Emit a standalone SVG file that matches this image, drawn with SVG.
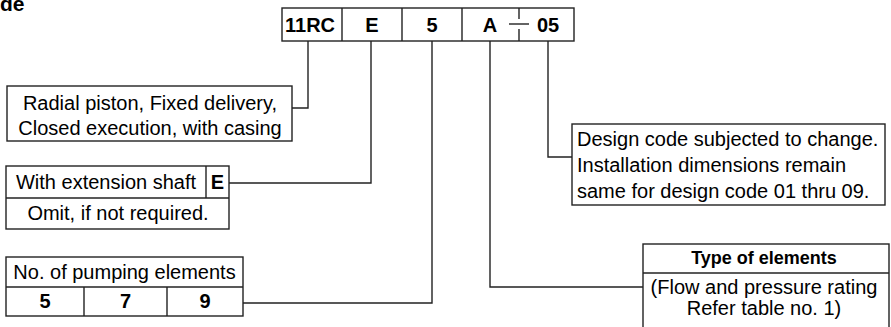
<svg xmlns="http://www.w3.org/2000/svg" width="891" height="327" viewBox="0 0 891 327">
<style>
.box{fill:#fff;stroke:#222;stroke-width:1.4}
.ln{fill:none;stroke:#222;stroke-width:1.4}
text{font-family:"Liberation Sans",Arial,sans-serif;font-size:20px;fill:#000}
.b{font-weight:bold}
.c{text-anchor:middle}
</style>
<rect width="891" height="327" fill="#fff"/>
<text class="b" x="0" y="11" style="font-size:21px">de</text>

<g id="code">
<rect class="box" x="282" y="8" width="292" height="33"/>
<line class="ln" x1="342" y1="8" x2="342" y2="41"/>
<line class="ln" x1="402" y1="8" x2="402" y2="41"/>
<line class="ln" x1="462" y1="8" x2="462" y2="41"/>
<line class="ln" x1="519" y1="8" x2="519" y2="19"/>
<line class="ln" x1="509" y1="24" x2="529" y2="24"/>
<line class="ln" x1="519" y1="29" x2="519" y2="41"/>
<text class="b c" x="310" y="32">11RC</text>
<text class="b c" x="372" y="32">E</text>
<text class="b c" x="432" y="32">5</text>
<text class="b c" x="490" y="32">A</text>
<text class="b c" x="548" y="32">05</text>
</g>

<g id="connectors">
<path class="ln" d="M308,41 V108 H292"/>
<path class="ln" d="M371,41 V183 H229"/>
<path class="ln" d="M432,41 V303 H243"/>
<path class="ln" d="M490,41 V287 H643"/>
<path class="ln" d="M548,41 V157 H572"/>
</g>

<g id="radial">
<rect class="box" x="7" y="86" width="285" height="55"/>
<text class="c" x="150" y="110">Radial piston, Fixed delivery,</text>
<text class="c" x="150" y="135">Closed execution, with casing</text>
</g>

<g id="shaft">
<rect class="box" x="6" y="166" width="223" height="63"/>
<line class="ln" x1="6" y1="198" x2="229" y2="198"/>
<line class="ln" x1="206" y1="166" x2="206" y2="198"/>
<text class="c" x="106" y="189">With extension shaft</text>
<text class="b c" x="217.5" y="189">E</text>
<text class="c" x="118" y="220">Omit, if not required.</text>
</g>

<g id="elements">
<rect class="box" x="6" y="257" width="237" height="59"/>
<line class="ln" x1="6" y1="287" x2="243" y2="287"/>
<line class="ln" x1="84" y1="287" x2="84" y2="316"/>
<line class="ln" x1="167" y1="287" x2="167" y2="316"/>
<text class="c" x="124.5" y="279">No. of pumping elements</text>
<text class="b c" x="45" y="308">5</text>
<text class="b c" x="125.5" y="308">7</text>
<text class="b c" x="205" y="308">9</text>
</g>

<g id="design">
<rect class="box" x="572" y="124" width="313" height="81"/>
<text x="577" y="146">Design code subjected to change.</text>
<text x="577" y="172">Installation dimensions remain</text>
<text x="577" y="198">same for design code 01 thru 09.</text>
</g>

<g id="type">
<rect class="box" x="643" y="244" width="246" height="95"/>
<line class="ln" x1="643" y1="273" x2="889" y2="273"/>
<text class="b c" x="764" y="264" style="font-size:18px">Type of elements</text>
<text class="c" x="764" y="294">(Flow and pressure rating</text>
<text class="c" x="764" y="315">Refer table no. 1)</text>
</g>
</svg>
